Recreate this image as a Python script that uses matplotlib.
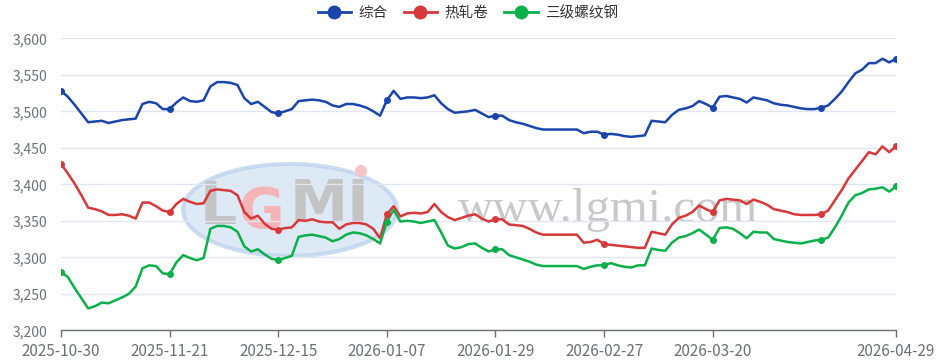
import matplotlib.pyplot as plt
from matplotlib.patches import Ellipse
from matplotlib.lines import Line2D
import numpy as np

plt.rcParams['font.family'] = ['Noto Sans CJK SC', 'DejaVu Sans']

# category axis: 124 trading days, labels shown every 16th day plus the last
tick_idx = [0, 16, 32, 48, 64, 80, 96, 123]
tick_labels = ['2025-10-30', '2025-11-21', '2025-12-15', '2026-01-07',
               '2026-01-29', '2026-02-27', '2026-03-20', '2026-04-29']
dot_idx = [0, 16, 32, 48, 64, 80, 96, 112, 123]

zonghe = [3528, 3520, 3509, 3497, 3485, 3486, 3487, 3484, 3486, 3488,
          3489, 3490, 3510, 3513, 3511, 3503, 3503, 3512, 3519, 3514,
          3513, 3515, 3534, 3540, 3540, 3539, 3536, 3518, 3510, 3513,
          3506, 3499, 3497, 3500, 3503, 3514, 3515, 3516, 3515, 3513,
          3508, 3506, 3510, 3510, 3508, 3505, 3500, 3494, 3515, 3528,
          3517, 3519, 3519, 3518, 3519, 3522, 3511, 3503, 3498, 3499,
          3500, 3502, 3497, 3492, 3494, 3494, 3488, 3485, 3483, 3480,
          3477, 3475, 3475, 3475, 3475, 3475, 3475, 3470, 3472, 3472,
          3468, 3469, 3468, 3466, 3465, 3466, 3467, 3487, 3486, 3485,
          3495, 3502, 3504, 3507, 3514, 3510, 3505, 3520, 3521, 3519,
          3517, 3512, 3519, 3517, 3515, 3511, 3509, 3508, 3506, 3504,
          3503, 3503, 3505, 3508, 3517, 3527, 3540, 3552, 3557, 3566,
          3566, 3572, 3567, 3572]

rezhajuan = [3428, 3415, 3401, 3385, 3368, 3366, 3363, 3358, 3358, 3359,
             3357, 3353, 3375, 3375, 3370, 3364, 3362, 3373, 3380, 3376,
             3373, 3374, 3391, 3393, 3392, 3391, 3385, 3362, 3353, 3357,
             3346, 3339, 3338, 3340, 3341, 3351, 3350, 3352, 3349, 3348,
             3348, 3339, 3345, 3347, 3347, 3345, 3339, 3326, 3359, 3370,
             3356, 3360, 3361, 3360, 3362, 3373, 3362, 3355, 3351, 3354,
             3357, 3359, 3353, 3349, 3352, 3352, 3345, 3344, 3343, 3339,
             3334, 3331, 3331, 3331, 3331, 3331, 3331, 3320, 3321, 3324,
             3318, 3317, 3316, 3315, 3314, 3313, 3313, 3335, 3333, 3331,
             3345, 3354, 3357, 3362, 3371, 3366, 3362, 3378, 3380, 3379,
             3378, 3373, 3379, 3376, 3372, 3366, 3364, 3362, 3359, 3358,
             3358, 3358, 3359, 3364, 3378, 3392, 3408, 3420, 3432, 3444,
             3441, 3452, 3444, 3452]

luowengang = [3280, 3273, 3258, 3244, 3230, 3233, 3238, 3237, 3241, 3245,
              3250, 3260, 3285, 3289, 3288, 3278, 3277, 3293, 3303, 3299,
              3296, 3299, 3339, 3343, 3343, 3341, 3335, 3315, 3308, 3311,
              3304, 3298, 3296, 3299, 3302, 3328, 3330, 3331, 3329, 3327,
              3322, 3325, 3331, 3334, 3333, 3330, 3325, 3319, 3349, 3365,
              3349, 3350, 3349, 3347, 3349, 3351, 3334, 3316, 3312, 3314,
              3318, 3319, 3313, 3308, 3311, 3311, 3303, 3300, 3297, 3294,
              3290, 3288, 3288, 3288, 3288, 3288, 3288, 3284, 3287, 3289,
              3289, 3292, 3289, 3287, 3286, 3289, 3289, 3312, 3310, 3309,
              3320, 3327, 3329, 3333, 3338, 3331, 3324, 3340, 3341, 3339,
              3333, 3326, 3335, 3334, 3334, 3325, 3323, 3321, 3320, 3319,
              3321, 3323, 3324, 3327, 3341, 3357, 3375, 3385, 3388, 3393,
              3394, 3396, 3390, 3397]

series = [('综合', zonghe, '#1a45ad'),
          ('热轧卷', rezhajuan, '#d7383a'),
          ('三级螺纹钢', luowengang, '#0bb04a')]

W, H = 946, 361
fig = plt.figure(figsize=(W / 100, H / 100), dpi=100)
ax = fig.add_axes([61 / W, 1 - 330.3 / H, 835 / W, 292 / H])

# watermark (logo + site name), drawn behind the lines
def fx(px):
    return px / W
def fy(py):
    return 1 - py / H

fig.patches.append(Ellipse((fx(290), fy(210)), 214 / W, 92 / H, transform=fig.transFigure,
                           facecolor='#d3e2f3', edgecolor='#bcd2ec', lw=3, alpha=0.75, zorder=0))
fig.patches.append(Ellipse((fx(361), fy(171)), 12 / W, 12 / H, transform=fig.transFigure,
                           facecolor='#f6c4c8', edgecolor='none', zorder=0))
fig.text(fx(200), fy(207), 'L', fontsize=42, color='#c4c4c4', family='DejaVu Sans',
         weight='bold', ha='left', va='center', zorder=0)
fig.text(fx(238), fy(212), 'G', fontsize=40, color='#f4b4b8', family='DejaVu Sans',
         weight='bold', ha='left', va='center', zorder=0)
fig.text(fx(290), fy(205), 'MI', fontsize=42, color='#c4c4c4', family='DejaVu Sans',
         weight='bold', ha='left', va='center', zorder=0)
fig.text(fx(458), fy(210), 'www.lgmi.com', fontsize=35, color='#c9c9c9',
         family='Liberation Serif', ha='left', va='center', zorder=0)
ax.set_facecolor('none')
ax.set_zorder(1)

x = np.arange(len(zonghe))
for name, vals, col in series:
    v = np.array(vals)
    ax.plot(x, v, color=col, lw=1.8, solid_joinstyle='round', solid_capstyle='round',
            label=name, zorder=3)
    ax.plot(x[dot_idx], v[dot_idx], 'o', color=col, ms=4, zorder=4)

ax.set_xlim(0, len(zonghe) - 1)
ax.set_ylim(3200, 3600)
ax.set_yticks(np.arange(3200, 3601, 50))
ax.yaxis.set_major_formatter(plt.FuncFormatter(lambda v, p: f'{int(v):,}'))
ax.grid(axis='y', color='#e0e6f1', lw=1)
ax.set_axisbelow(True)
for s in ['left', 'right', 'top']:
    ax.spines[s].set_visible(False)
ax.spines['bottom'].set_color('#6e7079')
ax.spines['bottom'].set_linewidth(1)
ax.tick_params(axis='y', length=0, pad=10, labelsize=10, labelcolor='#6e7079')
ax.set_xticks(tick_idx)
ax.set_xticklabels(tick_labels)
ax.tick_params(axis='x', length=5, width=1, color='#6e7079', pad=4,
               labelsize=11, labelcolor='#6e7079')

# legend with line + big dot
handles = [Line2D([0], [0], color=c, lw=2, marker='o', ms=9) for _, _, c in series]
fig.legend(handles, [s[0] for s in series], loc='center', bbox_to_anchor=(fx(468), fy(13)),
           ncol=3, frameon=False, fontsize=10.5, handlelength=2.3, handletextpad=0.5,
           columnspacing=1.1, labelcolor='#333333')

fig.savefig('out.png', dpi=100)
